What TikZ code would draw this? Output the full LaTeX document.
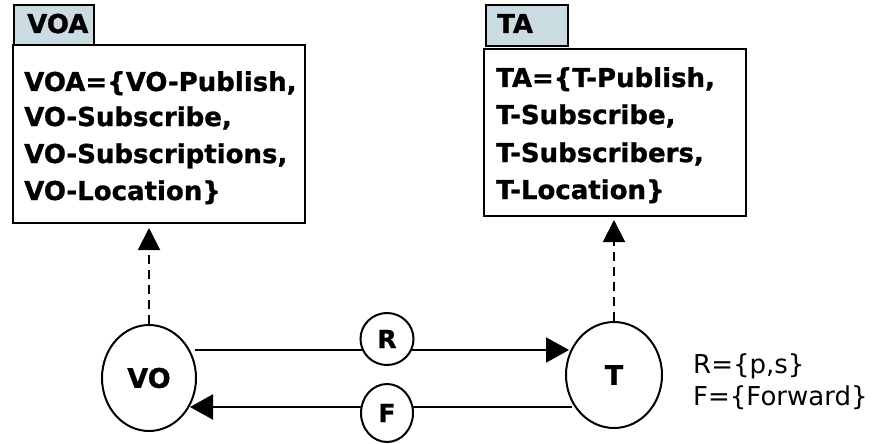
\documentclass[tikz,border=0pt]{standalone}
\usepackage{fontspec}
\setmainfont{DejaVu Sans}[BoldFeatures={FakeBold=1}]
\usetikzlibrary{arrows.meta,shapes.geometric}
\definecolor{tabfill}{RGB}{202,220,226}
\tikzset{
  x=1pt, y=-1pt,
  box/.style={draw, line width=2pt, fill=white, inner sep=0pt},
  tabbox/.style={draw, line width=2pt, fill=tabfill, inner sep=0pt},
  lbl/.style={font=\fontsize{26}{30}\selectfont\bfseries, inner sep=0pt, anchor=base west},
  plain/.style={font=\fontsize{26}{30}\selectfont, inner sep=0pt, anchor=base west},
  agent/.style={draw, line width=2pt, ellipse, inner sep=0pt, font=\fontsize{27}{30}\selectfont\bfseries},
  tag/.style={draw, line width=2pt, fill=white, ellipse, inner sep=0pt, font=\fontsize{25}{30}\selectfont\bfseries},
  conn/.style={line width=2pt, -{Triangle[width=25pt,length=23pt]}},
  dconn/.style={line width=2pt, dash pattern=on 9pt off 6pt, -{Triangle[width=22pt,length=22pt]}},
}
\begin{document}
\begin{tikzpicture}
\useasboundingbox (0,0) rectangle (873,444);
% VOA
\node[box, minimum width=292pt, minimum height=178pt, anchor=north west] (voabox) at (12,44) {};
\node[tabbox, minimum width=80pt, minimum height=40pt, anchor=north west] (voatab) at (13,4) {};
\node[lbl] (voatitle) at (27,33) {VOA};
\node[lbl] (voa1) at (24,91) {VOA=\{VO-Publish,};
\node[lbl] (voa2) at (24,126) {VO-Subscribe,};
\node[lbl] (voa3) at (24,163) {VO-Subscriptions,};
\node[lbl] (voa4) at (24,200) {VO-Location\}};
% TA
\node[box, minimum width=262pt, minimum height=167pt, anchor=north west] (tabox) at (483,48) {};
\node[tabbox, minimum width=82pt, minimum height=41pt, anchor=north west] (tatab) at (485,4) {};
\node[lbl] (tatitle) at (497,33) {TA};
\node[lbl] (ta1) at (496,87) {TA=\{T-Publish,};
\node[lbl] (ta2) at (496,124) {T-Subscribe,};
\node[lbl] (ta3) at (496,162) {T-Subscribers,};
\node[lbl] (ta4) at (496,199) {T-Location\}};
% agents
\node[agent, minimum width=94pt, minimum height=106pt] (vo) at (149,378) {VO};
\node[agent, minimum width=96pt, minimum height=106pt] (t) at (614,375) {T};
% dashed arrows
\coordinate (voup) at (149,228);
\coordinate (tup) at (614,220);
\draw[dconn] (vo.north) -- (voup);
\draw[dconn] (t.north) -- (tup);
% R and F
\coordinate (rs) at (195,350);
\coordinate (re) at (569,350);
\coordinate (fs) at (572,407);
\coordinate (fe) at (190,407);
\draw[conn] (rs) -- (re);
\draw[conn] (fs) -- (fe);
\node[tag, minimum width=53pt, minimum height=52pt] (r) at (387,339) {R};
\node[tag, minimum width=52pt, minimum height=58pt] (f) at (387,413) {F};
% legend
\node[plain] (leg1) at (693,373) {R=\{p,s\}};
\node[plain] (leg2) at (693,405) {F=\{Forward\}};
\end{tikzpicture}
\end{document}
